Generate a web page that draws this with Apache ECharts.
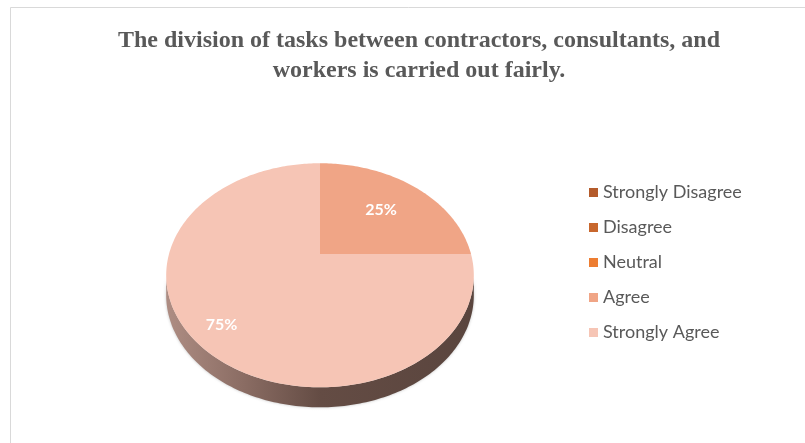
<!DOCTYPE html>
<html>
<head>
<meta charset="utf-8">
<script src="https://cdn.jsdelivr.net/npm/echarts@6/dist/echarts.min.js"></script>
<style>
  html, body { margin: 0; padding: 0; background: #ffffff; }
  #chart { width: 805px; height: 443px; }
</style>
</head>
<body>
<div id="chart"></div>
<script>
// Survey answers and their share of respondents (%)
const categories = ['Strongly Disagree', 'Disagree', 'Neutral', 'Agree', 'Strongly Agree'];
const shares = [0, 0, 0, 25, 75];
const sliceColors = ['#b45b2b', '#c8672d', '#ed7d31', '#f0a586', '#f6c5b5'];
const chartTitle = 'The division of tasks between contractors, consultants, and\nworkers is carried out fairly.';

// Tilted-disc geometry: centre, semi-axes, perspective strength and rim depth
const disc = { cx: 320, cy: 254, a: 151, b: 108, k: 0.19, depth: 20 };
// How far out along the radius each percentage label sits
const labelRadius = [0.7, 0.7, 0.7, 0.62, 0.82];

const total = shares.reduce((s, v) => s + v, 0);

// Fraction of the full turn (clockwise from 12 o'clock) -> screen point
function project(t, r, drop) {
  const theta = Math.PI / 2 - 2 * Math.PI * t;
  const X = r * Math.cos(theta), Y = r * Math.sin(theta);
  const w = 1 + disc.k * Y;
  return [disc.cx + disc.a * X / w, disc.cy - disc.b * Y / w + (drop || 0)];
}

function arcPoints(t0, t1, drop) {
  const n = Math.max(2, Math.ceil((t1 - t0) * 360));
  const pts = [];
  for (let i = 0; i <= n; i++) pts.push(project(t0 + (t1 - t0) * i / n, 1, drop));
  return pts;
}

// Visible rim runs between the two silhouette points of the front half
const alpha = Math.asin(disc.k) / (2 * Math.PI);
const rimStart = 0.25 + alpha, rimEnd = 0.75 - alpha;

const rimFill = {
  type: 'linear', global: true,
  x: disc.cx - disc.a, y: 0, x2: disc.cx + disc.a, y2: 0,
  colorStops: [
    { offset: 0, color: '#ad8c82' },
    { offset: 0.25, color: '#8a6c63' },
    { offset: 0.5, color: '#644c44' },
    { offset: 1, color: '#5a453e' }
  ]
};

function makeRenderer(idx) {
  return function (params, api) {
    const value = api.value(0);
    if (!value) return null;
    let before = 0;
    for (let j = 0; j < idx; j++) before += shares[j];
    const t0 = before / total, t1 = (before + value) / total;
    const children = [];

    const s = Math.max(t0, rimStart), e = Math.min(t1, rimEnd);
    if (e > s) {
      const top = arcPoints(s, e, 0);
      const bottom = arcPoints(s, e, disc.depth).reverse();
      children.push({
        type: 'polygon', z2: 1,
        shape: { points: top.concat(bottom) },
        style: { fill: rimFill, shadowBlur: 3, shadowColor: 'rgba(0,0,0,0.25)' }
      });
    }

    const face = [project(0, 0, 0)].concat(arcPoints(t0, t1, 0));
    children.push({
      type: 'polygon', z2: 2,
      shape: { points: face },
      style: { fill: sliceColors[idx] }
    });

    const mid = (t0 + t1) / 2;
    const lp = project(mid, labelRadius[idx], 0);
    children.push({
      type: 'text', z2: 3,
      x: lp[0], y: lp[1],
      style: {
        text: Math.round(value / total * 100) + '%',
        fill: '#ffffff',
        font: 'bold 16px Lato, "Open Sans", sans-serif',
        align: 'center', verticalAlign: 'middle'
      }
    });
    return { type: 'group', children: children };
  };
}

const series = categories.map((name, i) => ({
  type: 'custom',
  name: name,
  coordinateSystem: 'none',
  color: sliceColors[i],
  renderItem: makeRenderer(i),
  data: [[shares[i]]],
  silent: true
}));

const chart = echarts.init(document.getElementById('chart'), null, { renderer: 'canvas' });
chart.setOption({
  animation: false,
  backgroundColor: '#ffffff',
  title: {
    text: chartTitle,
    left: 419, top: 26,
    textAlign: 'center',
    padding: 0,
    textStyle: {
      fontFamily: '"Liberation Serif", "Times New Roman", serif',
      fontWeight: 'bold', fontSize: 24, lineHeight: 30, color: '#595959'
    }
  },
  legend: {
    orient: 'vertical',
    left: 589, top: 183,
    padding: 0,
    icon: 'rect', itemWidth: 9, itemHeight: 9, itemGap: 16,
    data: categories,
    selectedMode: false,
    textStyle: { fontFamily: 'Lato, "Open Sans", sans-serif', fontSize: 18, lineHeight: 19, color: '#595959' }
  },
  graphic: [{
    type: 'rect', silent: true,
    shape: { x: 10.5, y: 7.5, width: 830, height: 470 },
    style: { fill: 'none', stroke: '#d9d9d9', lineWidth: 1 }
  }],
  series: series
});
</script>
</body>
</html>
